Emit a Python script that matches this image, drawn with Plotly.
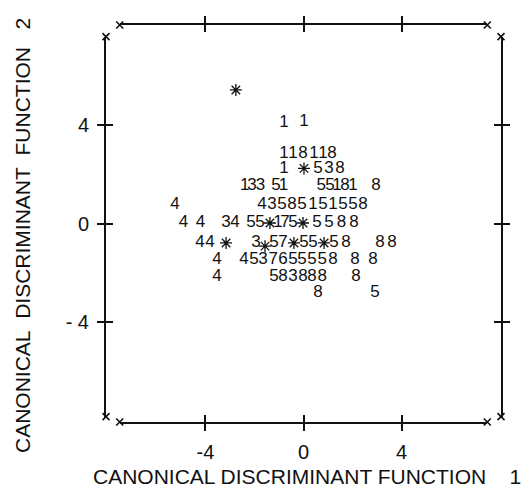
import plotly.graph_objects as go

# ---- data ----
# group-membership digits of the individual cases
CASE_X = [-0.80, 0.02,
          -0.80, -0.43, -0.02, 0.43, 0.80, 1.16,
          -0.80, 0.59, 1.04, 1.49,
          -2.40, -2.10, -1.76, -1.12, -0.82, 0.72, 1.08, 1.37, 1.69, 2.02, 2.96,
          -5.24, -1.69, -1.29, -0.88, -0.47, -0.06, 0.39, 0.80, 1.20, 1.61, 2.02, 2.43,
          -4.90, -4.20, -3.16, -2.80, -2.14, -1.78, -1.04, -0.76, -0.43, 0.55, 1.04, 1.55, 2.06,
          -4.22, -3.82, -1.94, -1.20, -0.84, 0.02, 0.39, 1.24, 1.73, 3.12, 3.61,
          -3.53, -2.43, -2.02, -1.65, -1.24, -0.84, -0.43, -0.06, 0.35, 0.76, 1.20, 2.10, 2.84,
          -3.53, -1.20, -0.84, -0.43, -0.02, 0.35, 0.76, 2.14,
          0.59, 2.92]
CASE_Y = [4.10, 4.15,
          2.83, 2.83, 2.83, 2.83, 2.83, 2.83,
          2.24, 2.24, 2.24, 2.24,
          1.52, 1.52, 1.52, 1.52, 1.52, 1.52, 1.52, 1.52, 1.52, 1.52, 1.52,
          0.78, 0.78, 0.78, 0.78, 0.78, 0.78, 0.78, 0.78, 0.78, 0.78, 0.78, 0.78,
          0.02, 0.02, 0.02, 0.02, 0.02, 0.02, 0.02, 0.02, 0.02, 0.02, 0.02, 0.02, 0.02,
          -0.79, -0.79, -0.79, -0.79, -0.79, -0.79, -0.79, -0.79, -0.79, -0.79, -0.79,
          -1.48, -1.48, -1.48, -1.48, -1.48, -1.48, -1.48, -1.48, -1.48, -1.48, -1.48, -1.48, -1.48,
          -2.17, -2.17, -2.17, -2.17, -2.17, -2.17, -2.17, -2.17,
          -2.83, -2.83]
CASE_GROUP = ["1", "1",
              "1", "1", "8", "1", "1", "8",
              "1", "5", "3", "8",
              "1", "3", "3", "5", "1", "5", "5", "1", "8", "1", "8",
              "4", "4", "3", "5", "8", "5", "1", "5", "1", "5", "5", "8",
              "4", "4", "3", "4", "5", "5", "1", "7", "5", "5", "5", "8", "8",
              "4", "4", "3", "5", "7", "5", "5", "5", "8", "8", "8",
              "4", "4", "5", "3", "7", "6", "5", "5", "5", "5", "8", "8", "8",
              "4", "5", "8", "3", "8", "8", "8", "8",
              "8", "5"]

# group centroids (asterisks)
CENTROID_X = [-2.76, 0.02, -1.37, -0.02, -3.16, -1.57, -0.39, 0.84]
CENTROID_Y = [5.43, 2.24, 0.02, 0.02, -0.79, -0.92, -0.79, -0.79]

X_TICKS = [-4, 0, 4]
X_TICK_TEXT = ["-4", "0", "4"]
Y_TICKS = [-4, 0, 4]
Y_TICK_TEXT = ["- 4", "0", "4"]

X_TITLE = "CANONICAL DISCRIMINANT FUNCTION\u00a0\u00a0\u00a0\u00a01"
Y_TITLE = "CANONICAL\u00a0\u00a0DISCRIMINANT\u00a0\u00a0FUNCTION\u00a0\u00a0\u00a02"

# ---- frame geometry ----
XR = 8.06          # half-width of the plotting region (x units)
YR = 8.07          # half-height of the plotting region (y units)
H_EXT = 7.5        # horizontal frame lines run from -H_EXT to H_EXT
V_TOP, V_BOT = 7.6, -7.85   # vertical frame lines run between these

FONT = "Liberation Sans, Arial, sans-serif"
INK = "#111111"
CLEAR = "rgba(0,0,0,0)"

fig = go.Figure()

# empty traces so every frame subplot exists (drawn first, underneath)
for xa, ya in [("x2", "y2"), ("x4", "y2"), ("x3", "y3"), ("x3", "y4")]:
    fig.add_trace(go.Scatter(x=[None], y=[None], mode="markers",
                             showlegend=False, hoverinfo="skip",
                             xaxis=xa, yaxis=ya))

fig.add_trace(go.Scatter(
    x=CASE_X, y=CASE_Y, mode="text", text=CASE_GROUP,
    textfont=dict(family=FONT, size=17, color=INK),
    textposition="middle center", hoverinfo="text", showlegend=False,
    xaxis="x", yaxis="y"))

fig.add_trace(go.Scatter(
    x=CENTROID_X, y=CENTROID_Y, mode="markers",
    marker=dict(symbol="asterisk-open", size=10, color=INK,
                line=dict(width=1.3, color=INK)),
    showlegend=False, xaxis="x", yaxis="y"))

# small x marks at the ends of the frame lines
end_x = [-H_EXT, H_EXT, -H_EXT, H_EXT, -XR, -XR, XR, XR]
end_y = [YR, YR, -YR, -YR, V_TOP, V_BOT, V_TOP, V_BOT]
fig.add_trace(go.Scatter(
    x=end_x, y=end_y, mode="markers", cliponaxis=False, hoverinfo="skip",
    marker=dict(symbol="x-thin-open", size=7, color=INK,
                line=dict(width=1.6, color=INK)),
    showlegend=False, xaxis="x", yaxis="y"))

hd = [(-H_EXT + XR) / (2 * XR), (H_EXT + XR) / (2 * XR)]
vd = [(V_BOT + YR) / (2 * YR), (V_TOP + YR) / (2 * YR)]

hidden = dict(visible=False, showgrid=False, zeroline=False, fixedrange=True)
tickfont = dict(family=FONT, size=20, color=INK)

fig.update_layout(
    width=530, height=504,
    margin=dict(l=106, r=29, t=25, b=82),
    paper_bgcolor="white", plot_bgcolor=CLEAR,
    showlegend=False,
    xaxis=dict(range=[-XR, XR], domain=[0, 1], anchor="y", **hidden),
    yaxis=dict(range=[-YR, YR], domain=[0, 1], anchor="x", **hidden),
    # horizontal frame lines (bottom with labels, top mirrored)
    xaxis2=dict(range=[-H_EXT, H_EXT], domain=hd, anchor="y2",
                showline=True, linecolor=INK, linewidth=2, mirror="ticks",
                ticks="outside", ticklen=7, tickwidth=1.5, tickcolor=INK,
                tickvals=X_TICKS, ticktext=X_TICK_TEXT, tickfont=tickfont,
                ticklabelstandoff=4,
                showgrid=False, zeroline=False, fixedrange=True),
    xaxis4=dict(range=[-H_EXT, H_EXT], overlaying="x2", anchor="y2",
                showline=False, mirror="ticks", ticks="inside", ticklen=7,
                tickwidth=1.5, tickcolor=INK, tickvals=X_TICKS,
                showticklabels=False, showgrid=False, zeroline=False,
                fixedrange=True),
    yaxis2=dict(range=[-YR, YR], domain=[0, 1], anchor="x2", **hidden),
    # vertical frame lines (left with labels, right mirrored)
    xaxis3=dict(range=[-XR, XR], domain=[0, 1], anchor="y3", **hidden),
    yaxis3=dict(range=[V_BOT, V_TOP], domain=vd, anchor="x3",
                showline=True, linecolor=INK, linewidth=2, mirror="ticks",
                ticks="outside", ticklen=7, tickwidth=1.5, tickcolor=INK,
                tickvals=Y_TICKS, ticktext=Y_TICK_TEXT, tickfont=tickfont,
                ticklabelstandoff=4,
                showgrid=False, zeroline=False, fixedrange=True),
    yaxis4=dict(range=[V_BOT, V_TOP], overlaying="y3", anchor="x3",
                showline=False, mirror="ticks", ticks="inside", ticklen=7,
                tickwidth=1.5, tickcolor=INK, tickvals=Y_TICKS,
                showticklabels=False, showgrid=False, zeroline=False,
                fixedrange=True),
    annotations=[
        dict(text=X_TITLE, xref="paper", yref="paper", x=0.51, y=-0.1385,
             xanchor="center", yanchor="middle", showarrow=False,
             font=dict(family=FONT, size=21, color=INK)),
        dict(text=Y_TITLE, xref="paper", yref="paper", x=-0.2127, y=0.471,
             xanchor="center", yanchor="middle", showarrow=False, textangle=-90,
             font=dict(family=FONT, size=21, color=INK)),
    ],
)

fig.write_html("out.html")
